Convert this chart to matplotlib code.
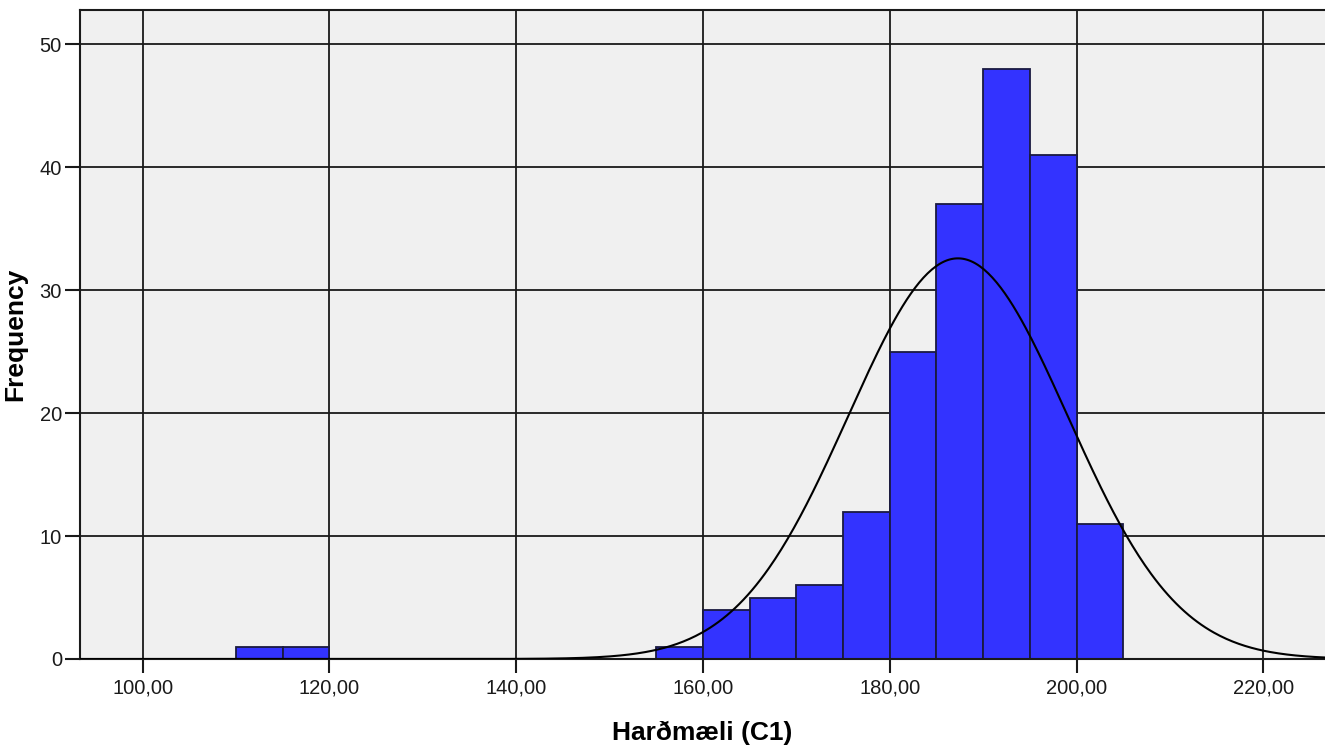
import numpy as np
import matplotlib
matplotlib.use('Agg')
import matplotlib.pyplot as plt

# histogram bins (width 5) and counts
bin_left = [110, 115, 155, 160, 165, 170, 175, 180, 185, 190, 195, 200]
counts = [1, 1, 1, 4, 5, 6, 12, 25, 37, 48, 41, 11]
bin_width = 5

# normal curve parameters
curve_mean = 187.3
curve_sd = 11.75

x_ticks = [100, 120, 140, 160, 180, 200, 220]
y_ticks = [0, 10, 20, 30, 40, 50]

plt.rcParams['font.family'] = ['Liberation Sans', 'DejaVu Sans']

fig = plt.figure(figsize=(13.25, 7.5), dpi=100)
ax = fig.add_axes([80 / 1325, 91 / 750, 1 - 80 / 1325, 649 / 750])
ax.set_facecolor('#f0f0f0')

ax.bar(bin_left, counts, width=bin_width, align='edge',
       color='#3333ff', edgecolor='#1a1a40', linewidth=1.3, zorder=2)

n_total = sum(counts)
xs = np.linspace(93, 227, 600)
ys = n_total * bin_width / (curve_sd * np.sqrt(2 * np.pi)) * \
    np.exp(-0.5 * ((xs - curve_mean) / curve_sd) ** 2)
ax.plot(xs, ys, color='black', linewidth=1.5, zorder=3)

ax.set_xlim(93.3, 226.6)
ax.set_ylim(0, 52.8)
ax.set_xticks(x_ticks)
ax.set_xticklabels([f'{v},00' for v in x_ticks])
ax.set_yticks(y_ticks)

ax.grid(True, color='#1a1a1a', linewidth=1.3, zorder=0)
ax.set_axisbelow(True)
ax.spines['right'].set_visible(False)
for s in ['left', 'top', 'bottom']:
    ax.spines[s].set_linewidth(1.5)
    ax.spines[s].set_color('#1a1a1a')
ax.tick_params(axis='both', direction='out', length=10, width=1.5,
               labelsize=14.5, colors='#1a1a1a', pad=4)
ax.tick_params(axis='y', length=11, pad=2)

ax.set_xlabel('Harðmæli (C1)', fontsize=19, fontweight='bold', labelpad=17)
ax.set_ylabel('Frequency', fontsize=19, fontweight='bold')
ax.yaxis.set_label_coords(-0.0426, 0.5, transform=ax.transAxes)

fig.savefig('out.png', dpi=100)
